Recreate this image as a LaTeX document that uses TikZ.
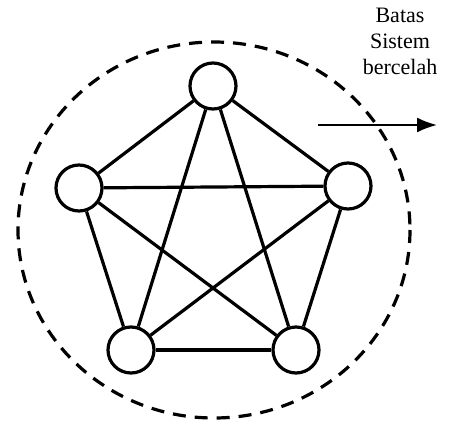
\documentclass[tikz,border=0pt]{standalone}
\usepackage{fontspec}
\setmainfont{Liberation Serif}
\usepackage{tikz}
\usetikzlibrary{arrows.meta}

\begin{document}
\begin{tikzpicture}[x=1pt,y=-1pt, >=Latex, node/.style={draw,circle,line width=3.2pt,minimum size=46pt,inner sep=0pt,fill=white}, edge/.style={line width=3.2pt}, label/.style={align=center,inner sep=0pt,font=\fontsize{22}{26}\selectfont}]
\useasboundingbox (0,0) rectangle (449,423);
\draw[line width=3.2pt,dash pattern=on 13pt off 9pt] (214,230) ellipse [x radius=196, y radius=188];
\node[node] (t) at (213,86) {};
\node[node] (l) at (79,188) {};
\node[node] (r) at (348,186) {};
\node[node] (bl) at (131,350) {};
\node[node] (br) at (296,350) {};
\draw[edge] (t)--(l);\draw[edge] (t)--(r);\draw[edge] (t)--(bl);\draw[edge] (t)--(br);
\draw[edge] (l)--(r);\draw[edge] (l)--(bl);\draw[edge] (l)--(br);
\draw[edge] (r)--(bl);\draw[edge] (r)--(br);\draw[edge] (bl)--(br);
\node[label,anchor=north] (lbl) at (400,8) {Batas\\Sistem\\bercelah};
\coordinate (a0) at (318,125);
\coordinate (a1) at (437,125);
\draw[->,line width=2pt,-{Latex[length=20pt,width=15pt]}] (a0)--(a1);
\end{tikzpicture}
\end{document}
